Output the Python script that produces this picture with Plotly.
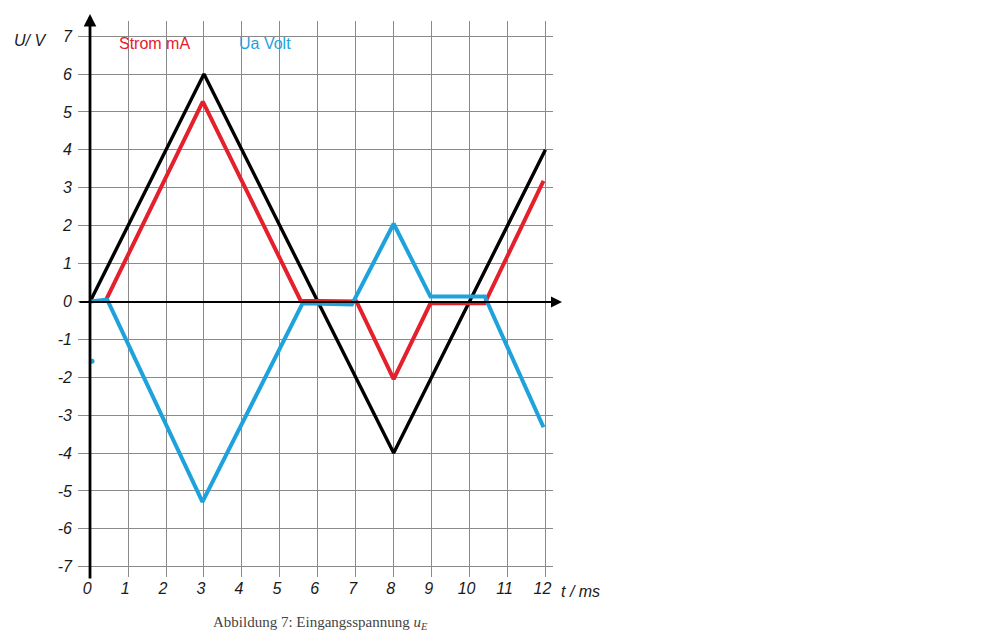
import plotly.graph_objects as go

# Data
x_ticks = list(range(0, 13))
y_ticks = list(range(-7, 8))

black_t = [0, 3, 8, 12]
black_u = [0, 6, -4, 4]

red_t = [0.4, 2.97, 5.55, 7.02, 8.0, 8.97, 10.4, 11.95]
red_u = [0.0, 5.27, 0.02, 0.0, -2.05, -0.05, -0.05, 3.18]

blue_t = [0.0, 0.45, 2.96, 5.6, 6.9, 8.0, 8.97, 10.4, 11.95]
blue_u = [0.0, 0.05, -5.29, -0.05, -0.08, 2.05, 0.13, 0.13, -3.32]

dot_t = [0.05]
dot_u = [-1.58]

RED = "#e3202b"
BLUE = "#1ea2dc"
GRID = "#8a8a8a"

# Layout geometry (figure pixels; page adds an 8px body margin)
OFF = 8
W, H = 990, 625
L, R, T, B = 70, 445, 13, 56
PW, PH = W - L - R, H - T - B


def pix(xp, yp):
    """window pixel -> paper coordinates"""
    return (xp - OFF - L) / PW, 1 - (yp - OFF - T) / PH


fig = go.Figure()

fig.add_trace(go.Scatter(x=black_t, y=black_u, mode="lines",
                         line=dict(color="black", width=3.4), hoverinfo="skip"))
fig.add_trace(go.Scatter(x=red_t, y=red_u, mode="lines",
                         line=dict(color=RED, width=4), hoverinfo="skip"))
fig.add_trace(go.Scatter(x=blue_t, y=blue_u, mode="lines",
                         line=dict(color=BLUE, width=4), hoverinfo="skip"))
fig.add_trace(go.Scatter(x=dot_t, y=dot_u, mode="markers",
                         marker=dict(color=BLUE, size=5), hoverinfo="skip"))

tickfont = dict(family="Liberation Sans, Arial", size=16, color="#1a1a1a")

fig.update_layout(
    width=W, height=H,
    margin=dict(l=L, r=R, t=T, b=B),
    paper_bgcolor="white", plot_bgcolor="white",
    showlegend=False,
    xaxis=dict(range=[-0.32, 12.2], tickvals=x_ticks,
               ticktext=[f"<i>{v}</i>" for v in x_ticks],
               showgrid=True, gridcolor=GRID, gridwidth=1.2,
               zeroline=False, showline=False, ticks="",
               tickfont=tickfont, ticklabelshift=-3),
    yaxis=dict(range=[-7.27, 7.4], tickvals=y_ticks,
               ticktext=[f"<i>{v}</i>" for v in y_ticks],
               showgrid=True, gridcolor=GRID, gridwidth=1.2,
               zeroline=False, showline=False, ticks="",
               tickfont=tickfont, ticklabelstandoff=5),
)

# Axes with arrows (paper head, pixel tail offsets)
hx, hy = pix(562, 302)
fig.add_annotation(x=hx, y=hy, ax=78 - 562, ay=0, xref="paper", yref="paper",
                   axref="pixel", ayref="pixel", showarrow=True, arrowhead=2,
                   arrowsize=1.0, arrowwidth=2.2, arrowcolor="black", text="")
hx, hy = pix(90, 14)
fig.add_annotation(x=hx, y=hy, ax=0, ay=580 - 14, xref="paper", yref="paper",
                   axref="pixel", ayref="pixel", showarrow=True, arrowhead=2,
                   arrowsize=0.9, arrowwidth=2.8, arrowcolor="black", text="")

# Texts
px_, py_ = pix(30, 40)
fig.add_annotation(x=px_, y=py_, xref="paper", yref="paper", text="<i>U/ V</i>",
                   showarrow=False, font=tickfont, xanchor="center", yanchor="middle")
px_, py_ = pix(580, 591)
fig.add_annotation(x=px_, y=py_, xref="paper", yref="paper", text="<i>t / ms</i>",
                   showarrow=False, font=tickfont, xanchor="center", yanchor="middle")
px_, py_ = pix(154, 44)
fig.add_annotation(x=px_, y=py_, xref="paper", yref="paper", text="Strom mA",
                   showarrow=False, font=dict(family="Liberation Sans, Arial", size=16, color=RED),
                   xanchor="center", yanchor="middle")
px_, py_ = pix(265, 44)
fig.add_annotation(x=px_, y=py_, xref="paper", yref="paper", text="Ua Volt",
                   showarrow=False, font=dict(family="Liberation Sans, Arial", size=16, color=BLUE),
                   xanchor="center", yanchor="middle")
px_, py_ = pix(320, 623)
fig.add_annotation(x=px_, y=py_, xref="paper", yref="paper",
                   text="Abbildung 7: Eingangsspannung <i>u<sub>E</sub></i>",
                   showarrow=False, font=dict(family="Liberation Serif, Times New Roman", size=15, color="#444"),
                   xanchor="center", yanchor="middle")

fig.write_html("out.html")
